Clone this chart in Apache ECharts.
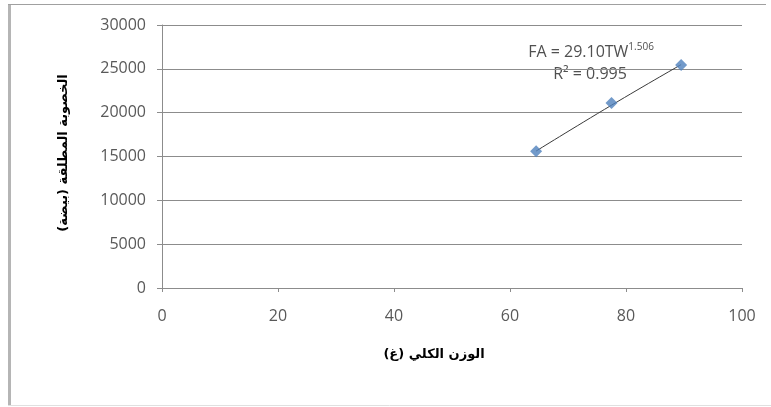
<!DOCTYPE html>
<html>
<head>
<meta charset="utf-8">
<script src="https://cdn.jsdelivr.net/npm/echarts@6/dist/echarts.min.js"></script>
<style>
  html, body { margin: 0; padding: 0; background: #fff; }
  #chart { width: 771px; height: 407px; }
</style>
</head>
<body>
<div id="chart"></div>
<script>
// Total weight (g) vs absolute fecundity (eggs)
const totalWeight = [64.5, 77.5, 89.5];
const fecundity = [15600, 21100, 25450];

// Fitted power trend line, sampled across the observed range
const trendWeight = [64.5, 77.5, 89.5];
const trendFecundity = [15620, 20850, 25480];

const xTicks = { min: 0, max: 100, interval: 20 };
const yTicks = { min: 0, max: 30000, interval: 5000 };

const xTitle = 'الوزن الكلي (غ)';
const yTitle = 'الخصوبة المطلقة (بيضة)';
const eqLine1 = 'FA = 29.10TW';
const eqExp = '1.506';
const eqLine2 = 'R² = 0.995';

const chart = echarts.init(document.getElementById('chart'));

const axisGray = '#8c8c8c';
const labelGray = '#595959';
const eqGray = '#505050';
const tickFont = 'Open Sans';

chart.setOption({
  animation: false,
  backgroundColor: '#ffffff',
  grid: { left: 162, right: 29, top: 25, bottom: 119 },
  xAxis: {
    type: 'value',
    min: xTicks.min, max: xTicks.max, interval: xTicks.interval,
    axisLine: { show: true, onZero: false, lineStyle: { color: axisGray, width: 1 } },
    axisTick: { show: true, inside: false, length: 4, lineStyle: { color: axisGray } },
    axisLabel: { color: labelGray, fontSize: 16, fontFamily: tickFont, margin: 20 },
    splitLine: { show: false }
  },
  yAxis: {
    type: 'value',
    min: yTicks.min, max: yTicks.max, interval: yTicks.interval,
    axisLine: { show: true, lineStyle: { color: axisGray, width: 1 } },
    axisTick: { show: true, inside: false, length: 5, lineStyle: { color: axisGray } },
    axisLabel: { color: labelGray, fontSize: 16, fontFamily: tickFont, margin: 16, formatter: v => String(v) },
    splitLine: { show: true, lineStyle: { color: axisGray, width: 1 } }
  },
  series: [
    {
      type: 'line',
      data: trendWeight.map((w, i) => [w, trendFecundity[i]]),
      smooth: true,
      showSymbol: false,
      lineStyle: { color: '#3a3a3a', width: 1 },
      z: 2
    },
    {
      type: 'scatter',
      data: totalWeight.map((w, i) => [w, fecundity[i]]),
      symbol: 'diamond',
      symbolSize: 12,
      itemStyle: { color: '#4f81bd' },
      z: 3
    }
  ],
  graphic: [
    // chart frame
    { type: 'rect', shape: { x: 8, y: 4, width: 3, height: 402 }, style: { fill: '#b5b5b5' }, silent: true },
    { type: 'line', shape: { x1: 8, y1: 4.5, x2: 766, y2: 4.5 }, style: { stroke: '#a0a0a0', lineWidth: 1 }, silent: true },
    { type: 'line', shape: { x1: 8, y1: 405.5, x2: 771, y2: 405.5 }, style: { stroke: '#e0e0e0', lineWidth: 1 }, silent: true },
    // axis titles
    {
      type: 'text', x: 434, y: 355,
      style: { text: xTitle, fill: '#000', font: 'bold 13px "DejaVu Sans"', align: 'center', verticalAlign: 'middle' }
    },
    {
      type: 'text', x: 64, y: 153, rotation: Math.PI / 2,
      style: { text: yTitle, fill: '#000', font: 'bold 13px "DejaVu Sans"', align: 'center', verticalAlign: 'middle' }
    },
    // trend equation
    {
      type: 'text', x: 591, y: 52,
      style: {
        text: '{b|' + eqLine1 + '}{s|' + eqExp + '}',
        fill: eqGray,
        align: 'center', verticalAlign: 'middle',
        rich: {
          b: { fontSize: 16, fontFamily: tickFont, fill: eqGray },
          s: { fontSize: 10, fontFamily: tickFont, fill: eqGray, verticalAlign: 'top', padding: [0, 0, 9, 0] }
        }
      }
    },
    {
      type: 'text', x: 590, y: 74,
      style: { text: eqLine2, fill: eqGray, font: '16px "Open Sans"', align: 'center', verticalAlign: 'middle' }
    }
  ]
});
</script>
</body>
</html>
